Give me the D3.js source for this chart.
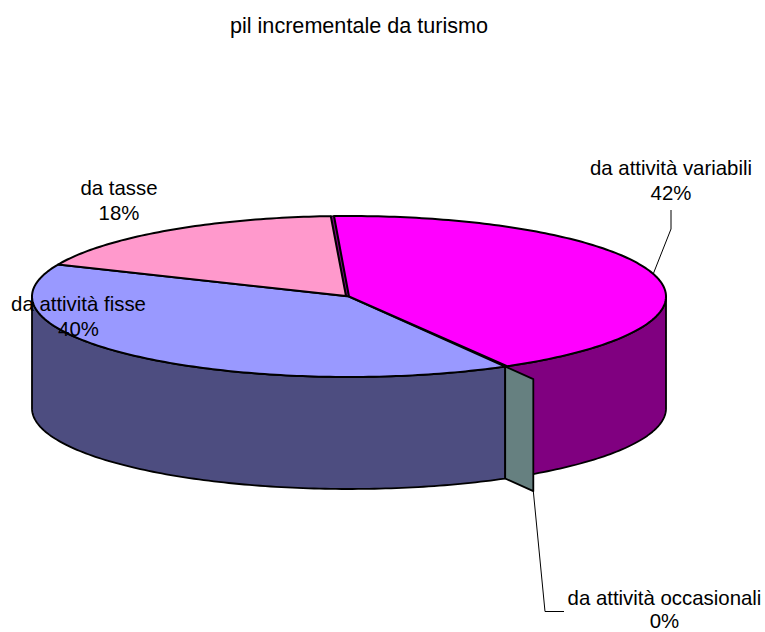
<!DOCTYPE html>
<html><head><meta charset="utf-8">
<style>html,body{margin:0;padding:0;background:#fff}svg{display:block}text{font-family:"Liberation Sans",Arial,sans-serif;font-size:20.4px;fill:#000}text.title{font-size:21.6px}</style>
<script src="https://cdn.jsdelivr.net/npm/d3@7/dist/d3.min.js"></script>
</head><body>
<svg id="c" width="765" height="632"></svg>
<script>
const title = "pil incrementale da turismo";
const categories = ["da attività variabili","da attività occasionali","da attività fisse","da tasse"];
const shares = [42.44,0.11,39.70,17.75];
const percentLabels = ["42%","0%","40%","18%"];
const topColors = ["#ff00ff","#668080","#9999ff","#ff99cc"];
const sideColors = ["#800080","#668080","#4d4d80","#cc4d80"];

const W=765,H=632,DEPTH=112,START=-2.7,GAP=0.6,EXPLODE=1.18;
const svg=d3.select("#c");
const x=d3.scaleLinear().domain([-1,1]).range([32,666]);
const y=d3.scaleLinear().domain([-1,1]).range([216,377]);
const rad=d=>d*Math.PI/180;
const px=(a,r=1)=>x(r*Math.sin(a));
const py=(a,r=1,dz=0)=>y(-r*Math.cos(a))+dz;
const pies=d3.pie().sort(null).value(d=>d).startAngle(rad(START)).endAngle(rad(START+360))(shares);
const line=d3.line();
const arcPts=(a0,a1,dz=0)=>{
  const n=Math.max(2,Math.ceil(Math.abs(a1-a0)/rad(1)));
  return d3.range(n+1).map(i=>{const a=a0+(a1-a0)*i/n;return [px(a),py(a,1,dz)];});
};
const C=[x(0),y(0)];
const styled=(sel,fill,sw)=>sel.attr("fill",fill).attr("stroke","#000").attr("stroke-width",sw||1.8).attr("stroke-linejoin","round");
const outerWall=(a0,a1)=>line([...arcPts(a0,a1),...arcPts(a1,a0,DEPTH)])+"Z";

const [pV,pO,pF,pT]=pies;
// front-facing outer walls
styled(svg.append("path").attr("d",outerWall(pV.endAngle,rad(90))),sideColors[0]);
styled(svg.append("path").attr("d",outerWall(rad(270),pF.startAngle)),sideColors[2]);

// sliver visible between the tasse slice and the variabili slice
const tEnd=pT.endAngle-rad(GAP);
const tApex=[C[0]-3,C[1]-0.5];
styled(svg.append("path").attr("d",line([tApex,[px(tEnd),py(tEnd)],[px(pV.startAngle),py(pV.startAngle)],C])+"Z"),sideColors[0],1.2);

// top faces
const topFace=(p,a1,apex,i)=>styled(svg.append("path").attr("d",line([apex,...arcPts(p.startAngle,a1)])+"Z"),topColors[i],2);
topFace(pF,pF.endAngle,C,2);
topFace(pT,tEnd,tApex,3);
topFace(pV,pV.endAngle,C,0);

// radial wall of the occasionali slice
const a=pO.endAngle;
styled(svg.append("path").attr("d",line([
  [px(a),py(a)],[px(a,EXPLODE),py(a,EXPLODE)],
  [px(a,EXPLODE),py(a,EXPLODE,DEPTH)],[px(a),py(a,1,DEPTH)]
])+"Z"),sideColors[1]);

// leader lines
const mid=(pV.startAngle+pV.endAngle)/2;
const leaderV=[[px(mid),py(mid)],[671,229],[671,210]];
const leaderO=[[px(a,EXPLODE),py(a,EXPLODE,DEPTH)],[545,611.5],[564,611.5]];
[leaderV,leaderO].forEach(l=>svg.append("path").attr("d",line(l)).attr("fill","none").attr("stroke","#000").attr("stroke-width",1));

// text
svg.append("text").attr("class","title").attr("x",359).attr("y",33).attr("text-anchor","middle").text(title);
const labelPos=[[671,175,25],[664.5,604.5,23],[78.5,311,25],[119,194.5,25]];
categories.forEach((c,i)=>{
  const t=svg.append("text").attr("text-anchor","middle");
  t.append("tspan").attr("x",labelPos[i][0]).attr("y",labelPos[i][1]).text(c);
  t.append("tspan").attr("x",labelPos[i][0]).attr("y",labelPos[i][1]+labelPos[i][2]).text(percentLabels[i]);
});
</script>
</body></html>
